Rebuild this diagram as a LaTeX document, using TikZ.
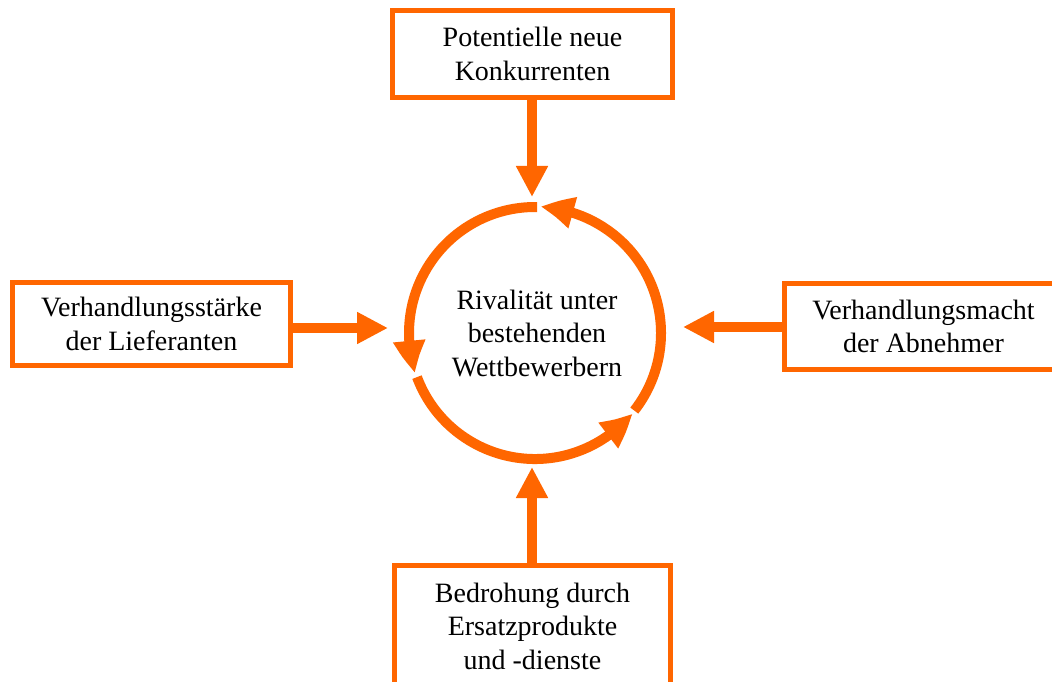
\documentclass[tikz,border=0pt]{standalone}
\usepackage{fontspec}
\setmainfont{Liberation Serif}
\usetikzlibrary{arrows.meta,bending,calc}
\definecolor{porter}{HTML}{FF6600}
\begin{document}
\begin{tikzpicture}[x=1pt,y=1pt,
  forcebox/.style={draw=porter, line width=5pt, fill=white, align=center, inner sep=0pt, font=\fontsize{28}{33.5}\selectfont},
  centertext/.style={align=center, inner sep=0pt, font=\fontsize{28}{33.5}\selectfont},
  pusharrow/.style={draw=porter, line width=10pt, -{Triangle[length=31pt,width=30pt]}},
  cyclearrow/.style={draw=porter, line width=10pt, -{Triangle[length=33pt,width=30pt,bend]}},
]
\clip (0,0) rectangle (1052,681);
\fill[white] (0,0) rectangle (1052,681);
% boxes
\node[forcebox, minimum width=280pt, minimum height=87pt] (top) at (532.5,627) {Potentielle neue\\Konkurrenten};
\node[forcebox, minimum width=278pt, minimum height=83pt] (left) at (151.5,357) {Verhandlungsst\"arke\\der Lieferanten};
\node[forcebox, minimum width=278pt, minimum height=86pt] (right) at (923.5,354.5) {Verhandlungsmacht\\der Abnehmer};
\node[forcebox, minimum width=276pt, minimum height=121pt] (bottom) at (532.5,55) {Bedrohung durch\\Ersatzprodukte\\und -dienste};
% centre
\node[centertext] (rival) at (537,348) {Rivalit\"at unter\\bestehenden\\Wettbewerbern};
\coordinate (c) at (535,348);
% tips of straight arrows
\coordinate (toptip) at (532,484);
\coordinate (bottip) at (532,214);
\coordinate (lefttip) at (388,353);
\coordinate (righttip) at (683,354);
\draw[pusharrow] (top.south -| toptip) -- (toptip);
\draw[pusharrow] (bottom.north -| bottip) -- (bottip);
\draw[pusharrow] (left.east |- lefttip) -- (lefttip);
\draw[pusharrow] (right.west |- righttip) -- (righttip);
% cycle arcs
\draw[cyclearrow] ([shift={(-38:126)}]c) arc[start angle=-38, end angle=87.5, radius=126];
\draw[cyclearrow] ([shift={(89:126)}]c) arc[start angle=89, end angle=198.5, radius=126];
\draw[cyclearrow] ([shift={(200.5:126)}]c) arc[start angle=200.5, end angle=320.5, radius=126];
\end{tikzpicture}
\end{document}
